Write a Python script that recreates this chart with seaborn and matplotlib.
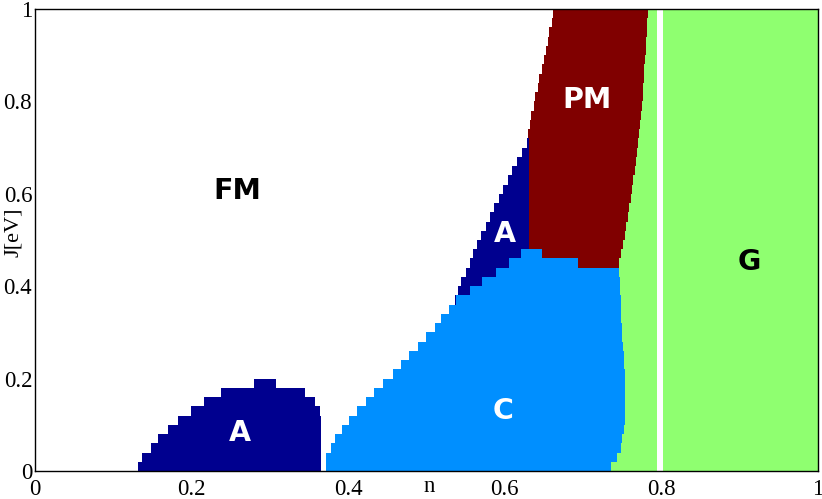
import matplotlib
matplotlib.use('Agg')

import numpy as np
import seaborn as sns
import matplotlib.pyplot as plt
from matplotlib.colors import ListedColormap

plt.rcParams['font.family'] = ['Liberation Serif', 'DejaVu Serif']

# phase codes: 0 FM (white), 1 A, 2 C, 3 PM, 4 G
phase_names = ['FM', 'A', 'C', 'PM', 'G']
phase_colors = ['white', '#00008F', '#008FFF', '#800000', '#8FFF70']

# J rows are 0.02 eV tall, counted from J=0
j_step = 0.02
n_rows = 50

# low-n A dome, rows 0..9 (left / right edge in n)
a1_left = [0.1315, 0.1375, 0.148, 0.157, 0.170, 0.183, 0.199, 0.216, 0.238, 0.280]
a1_right = [0.365, 0.365, 0.365, 0.365, 0.365, 0.365, 0.364, 0.357, 0.345, 0.308]

# C region, rows 0..23
c_left = [0.3725, 0.3725, 0.378, 0.3831, 0.3917, 0.4014, 0.4109, 0.4227,
          0.4333, 0.4448, 0.4568, 0.4683, 0.478, 0.4895, 0.4994, 0.5109,
          0.5185, 0.5291, 0.5385, 0.5564, 0.5715, 0.5888, 0.6047, 0.6213]
c_right = [1.0] * 22 + [0.693, 0.648]

# upper A wedge, rows 18..35
a2_first_row = 18
a2_left = [0.537, 0.5402, 0.5441, 0.5496, 0.5549, 0.560, 0.5645, 0.5705, 0.576,
           0.5811, 0.5862, 0.5926, 0.5977, 0.6041, 0.6092, 0.6156, 0.6216, 0.628]
a2_right = 0.631

# PM left edge (rows 22..49)
pm_first_row = 22
pm_edge_J = [0.45, 0.71, 0.73, 0.99]
pm_edge_n = [0.631, 0.631, 0.629, 0.6625]

# left edge of G (J, n)
g_edge_J = [0.01, 0.03, 0.05, 0.07, 0.10, 0.15, 0.23, 0.30, 0.37, 0.43,
            0.45, 0.47, 0.51, 0.59, 0.66, 0.73, 0.80, 0.93, 0.99]
g_edge_n = [0.7352, 0.7429, 0.7484, 0.7505, 0.7526, 0.7535, 0.7522, 0.750,
            0.748, 0.7465, 0.746, 0.749, 0.7535, 0.7608, 0.767, 0.7718,
            0.776, 0.7803, 0.7833]

# missing column at n = 0.8
gap_n = [0.7955, 0.8025]

n_cols = 1000
n_c = (np.arange(n_cols) + 0.5) / n_cols

grid = np.zeros((n_rows, n_cols))
for i in range(n_rows):
    Jc = (i + 0.5) * j_step
    row = grid[i]
    if i >= pm_first_row:
        row[n_c >= np.interp(Jc, pm_edge_J, pm_edge_n)] = 3
    k = i - a2_first_row
    if 0 <= k < len(a2_left):
        row[(n_c >= a2_left[k]) & (n_c < a2_right)] = 1
    if i < len(c_left):
        row[(n_c >= c_left[i]) & (n_c < c_right[i])] = 2
    if i < len(a1_left):
        row[(n_c >= a1_left[i]) & (n_c < a1_right[i])] = 1
    row[n_c >= np.interp(Jc, g_edge_J, g_edge_n)] = 4
    row[(n_c >= gap_n[0]) & (n_c < gap_n[1])] = 0

# heatmap draws row 0 on top
grid = grid[::-1]

fig = plt.figure(figsize=(8.22, 4.99), dpi=100)
ax = fig.add_axes([35 / 822, 28 / 499, 783 / 822, 462 / 499])
sns.heatmap(grid, cmap=ListedColormap(phase_colors), vmin=-0.5, vmax=4.5,
            cbar=False, xticklabels=False, yticklabels=False, ax=ax)

for s in ax.spines.values():
    s.set_visible(True)
    s.set_color('black')
    s.set_linewidth(1.0)

x_ticks = [0, 0.2, 0.4, 0.6, 0.8, 1]
y_ticks = [0, 0.2, 0.4, 0.6, 0.8, 1]
ax.set_xticks([t * n_cols for t in x_ticks])
ax.set_xticklabels(['0', '0.2', '0.4', '0.6', '0.8', '1'], rotation=0)
ax.set_yticks([(1 - t) * n_rows for t in y_ticks])
ax.set_yticklabels(['0', '0.2', '0.4', '0.6', '0.8', '1'], rotation=0)
ax.tick_params(axis='x', length=0, pad=6, labelsize=16.5)
ax.tick_params(axis='y', length=0, pad=2, labelsize=16.5)

ax.set_xlabel('n', fontsize=16.5)
ax.xaxis.set_label_coords(0.5035, -0.010)
ax.set_ylabel('J[eV]', fontsize=16, va='center')
ax.yaxis.set_label_coords(-0.028, 0.517)

# phase labels: (text, n, J, colour)
labels = [('FM', 0.2586, 0.605, 'black'),
          ('A', 0.262, 0.083, 'white'),
          ('A', 0.5998, 0.512, 'white'),
          ('PM', 0.7056, 0.804, 'white'),
          ('C', 0.598, 0.130, 'white'),
          ('G', 0.912, 0.452, 'black')]
for txt, n, J, col in labels:
    ax.text(n * n_cols, (1 - J) * n_rows, txt, color=col, fontsize=20.5,
            fontweight='bold', family='DejaVu Sans', ha='center', va='center')

plt.savefig('out.png', dpi=100)
plt.close()
